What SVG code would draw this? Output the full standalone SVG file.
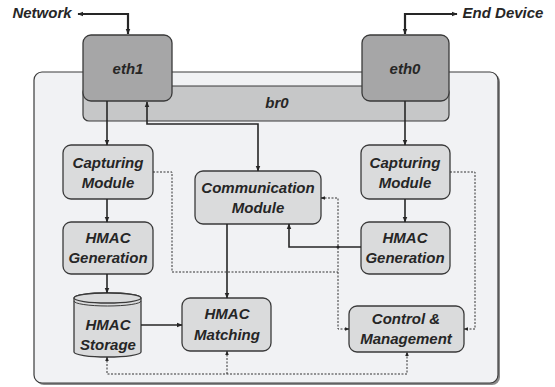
<svg xmlns="http://www.w3.org/2000/svg" width="555" height="387" viewBox="0 0 555 387">
<defs>
<marker id="ah" viewBox="0 0 10 10" refX="9" refY="5" markerWidth="6" markerHeight="6" orient="auto-start-reverse" markerUnits="userSpaceOnUse">
<path d="M0,1 L10,5 L0,9 z" fill="#262626"/>
</marker>
<marker id="ahs" viewBox="0 0 10 10" refX="9" refY="5" markerWidth="4.5" markerHeight="4.5" orient="auto-start-reverse" markerUnits="userSpaceOnUse">
<path d="M0,1 L10,5 L0,9 z" fill="#262626"/>
</marker>
</defs>
<style>
text{font-family:"Liberation Sans",Arial,sans-serif;font-weight:bold;font-style:italic;font-size:15px;fill:#262626;text-anchor:middle}
.box{fill:#dadbdc;stroke:#3a3a3a;stroke-width:1.3}
.eth{fill:#a6a6a7;stroke:#3a3a3a;stroke-width:1.3}
.solid{fill:none;stroke:#262626;stroke-width:1.6}
.thick{fill:none;stroke:#262626;stroke-width:2.2}
.dot{fill:none;stroke:#333;stroke-width:1;stroke-dasharray:2,1.5}
</style>
<rect width="555" height="387" fill="#fff"/>
<g id="container">
<rect x="36" y="74" width="464" height="311" rx="8" fill="#8a8a8a"/>
<rect x="34" y="72" width="464" height="311" rx="8" fill="#f1f2f4" stroke="#3a3a3a" stroke-width="1.2"/>
</g>
<g id="br0">
<rect x="83" y="86" width="366" height="35" rx="6" fill="#c6c7c8" stroke="#3a3a3a" stroke-width="1.2"/>
<text x="277" y="108">br0</text>
</g>
<g id="eth1">
<rect class="eth" x="83" y="35" width="89" height="66" rx="8"/>
<text x="128" y="74">eth1</text>
</g>
<g id="eth0">
<rect class="eth" x="362" y="35" width="87" height="66" rx="8"/>
<text x="405" y="74">eth0</text>
</g>
<g id="network-label"><text x="42" y="18">Network</text></g>
<g id="enddevice-label"><text x="503" y="18">End Device</text></g>
<g id="capL">
<rect class="box" x="63" y="145" width="90" height="54" rx="8"/>
<text x="108" y="168">Capturing</text>
<text x="108" y="188">Module</text>
</g>
<g id="genL">
<rect class="box" x="63" y="222" width="90" height="52" rx="8"/>
<text x="108" y="243">HMAC</text>
<text x="108" y="263">Generation</text>
</g>
<g id="storage">
<path class="box" d="M74,298 A33.5,5 0 0 1 141,298 L141,352 A33.5,5 0 0 1 74,352 Z"/>
<ellipse cx="107.5" cy="298" rx="33.5" ry="5" fill="#dadbdc" stroke="#3a3a3a" stroke-width="1.3"/>
<path d="M74,301 A33.5,5 0 0 0 141,301" fill="none" stroke="#3a3a3a" stroke-width="1"/>
<text x="108" y="330">HMAC</text>
<text x="108" y="350">Storage</text>
</g>
<g id="matching">
<rect class="box" x="182" y="298" width="89" height="53" rx="8"/>
<text x="227" y="319">HMAC</text>
<text x="227" y="340">Matching</text>
</g>
<g id="comm">
<rect class="box" x="195" y="171" width="126" height="53" rx="8"/>
<text x="258" y="193">Communication</text>
<text x="258" y="213">Module</text>
</g>
<g id="capR">
<rect class="box" x="361" y="145" width="89" height="54" rx="8"/>
<text x="405" y="168">Capturing</text>
<text x="405" y="188">Module</text>
</g>
<g id="genR">
<rect class="box" x="361" y="222" width="89" height="52" rx="8"/>
<text x="405" y="243">HMAC</text>
<text x="405" y="263">Generation</text>
</g>
<g id="control">
<rect class="box" x="349" y="306" width="115" height="46" rx="8"/>
<text x="406" y="324">Control &amp;</text>
<text x="406" y="344">Management</text>
</g>
<g id="connectors">
<path class="thick" d="M78,14 L128,14 L128,34" marker-start="url(#ah)" marker-end="url(#ah)"/>
<path class="thick" d="M457,14 L405,14 L405,34" marker-start="url(#ah)" marker-end="url(#ah)"/>
<path class="solid" d="M107,101 L107,145" marker-end="url(#ah)"/>
<path class="solid" d="M147,102 L147,124 L258,124 L258,171" marker-start="url(#ah)" marker-end="url(#ah)"/>
<path class="solid" d="M107,199 L107,222" marker-end="url(#ah)"/>
<path class="solid" d="M107,274 L107,293" marker-end="url(#ah)"/>
<path class="solid" d="M141,325 L182,325" marker-end="url(#ah)"/>
<path class="solid" d="M227,224 L227,298" marker-end="url(#ah)"/>
<path class="solid" d="M405,101 L405,145" marker-end="url(#ah)"/>
<path class="solid" d="M405,199 L405,222" marker-end="url(#ah)"/>
<path class="solid" d="M361,247 L289,247 L289,224" marker-end="url(#ah)"/>
<path class="dot" d="M153,172 L172,172 L172,272 L338,272"/>
<path class="dot" d="M321,198 L338,198 L338,329 L349,329" marker-start="url(#ahs)" marker-end="url(#ahs)"/>
<circle cx="338" cy="247" r="1.5" fill="#262626"/>
<path class="dot" d="M450,172 L475,172 L475,329 L464,329" marker-end="url(#ahs)"/>
<path class="dot" d="M107,357 L107,374 L407,374 L407,352" marker-start="url(#ahs)" marker-end="url(#ahs)"/>
<path class="dot" d="M227,374 L227,351" marker-end="url(#ahs)"/>
</g>
</svg>
